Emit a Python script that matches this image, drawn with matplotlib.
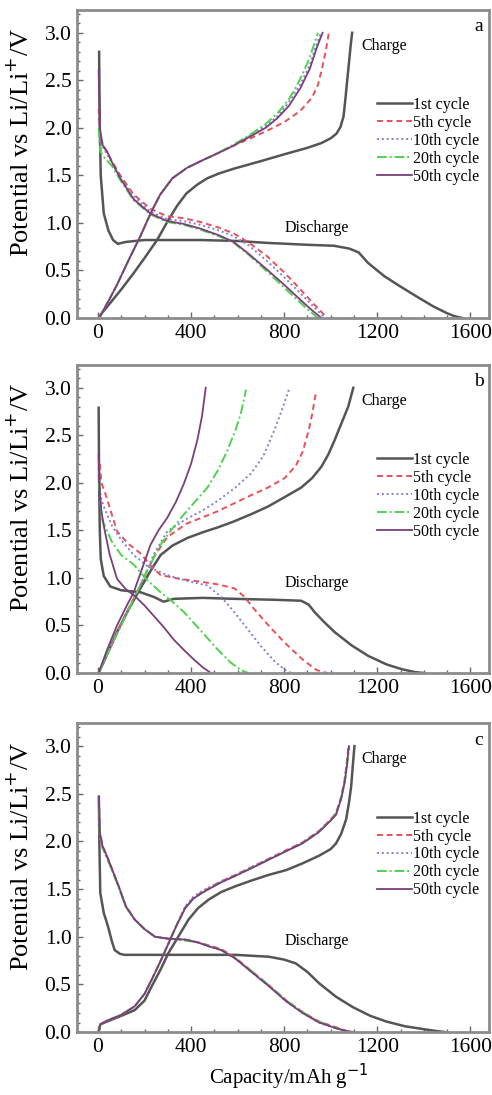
import matplotlib
matplotlib.use("Agg")
import matplotlib.pyplot as plt
from matplotlib.ticker import MultipleLocator

plt.rcParams['font.family'] = ['Liberation Serif', 'DejaVu Serif']

cycles = ['1st cycle', '5th cycle', '10th cycle', '20th cycle', '50th cycle']
panel_letters = ['a', 'b', 'c']

# ---- panel a : (capacity mAh/g, potential V) ----
a_dis_1st = [(5, 2.80), (8, 2.0), (12, 1.5), (25, 1.1), (45, 0.92), (65, 0.82), (85, 0.78), (120, 0.80),
             (200, 0.82), (440, 0.82), (600, 0.81), (726, 0.79), (900, 0.77), (1013, 0.76), (1080, 0.73),
             (1120, 0.69), (1160, 0.58), (1230, 0.44), (1300, 0.33), (1380, 0.21), (1442, 0.12),
             (1500, 0.05), (1530, 0.02), (1565, 0.0)]
a_chg_1st = [(10, 0.03), (60, 0.18), (100, 0.30), (153, 0.47), (200, 0.63), (254, 0.82), (300, 1.02),
             (340, 1.18), (380, 1.31), (425, 1.40), (470, 1.47), (520, 1.52), (583, 1.57), (700, 1.65),
             (798, 1.72), (900, 1.79), (960, 1.84), (1000, 1.89), (1025, 1.94), (1042, 2.01), (1055, 2.12),
             (1063, 2.3), (1070, 2.48), (1077, 2.65), (1085, 2.85), (1092, 3.0)]
a_dis_5th = [(3, 2.2), (10, 1.9), (30, 1.78), (60, 1.65), (96, 1.50), (153, 1.30), (225, 1.15), (297, 1.07),
             (368, 1.05), (440, 1.01), (520, 0.95), (583, 0.89), (650, 0.79), (726, 0.65), (800, 0.48),
             (870, 0.30), (930, 0.14), (985, 0.0)]
a_chg_5th = [(10, 0.02), (50, 0.2), (82, 0.35), (130, 0.6), (182, 0.86), (230, 1.12), (268, 1.30),
             (320, 1.47), (383, 1.58), (450, 1.66), (512, 1.73), (580, 1.81), (655, 1.89), (727, 1.97),
             (800, 2.06), (870, 2.18), (920, 2.32), (945, 2.45), (962, 2.62), (978, 2.8), (992, 3.0)]
a_dis_10th = [(3, 2.1), (10, 1.85), (30, 1.76), (60, 1.63), (96, 1.48), (153, 1.28), (225, 1.12), (297, 1.04),
              (368, 1.02), (440, 0.98), (520, 0.92), (583, 0.86), (650, 0.76), (726, 0.60), (800, 0.43),
              (870, 0.26), (930, 0.11), (975, 0.0)]
a_chg_10th = [(10, 0.02), (50, 0.2), (82, 0.35), (130, 0.6), (182, 0.86), (230, 1.12), (268, 1.30),
              (320, 1.47), (383, 1.58), (450, 1.66), (512, 1.73), (580, 1.81), (655, 1.92), (720, 2.02),
              (770, 2.12), (820, 2.27), (870, 2.46), (910, 2.66), (935, 2.85), (958, 3.0)]
a_dis_20th = [(3, 2.0), (10, 1.75), (30, 1.68), (60, 1.6), (96, 1.45), (153, 1.24), (225, 1.09), (297, 1.01),
              (368, 0.98), (440, 0.93), (520, 0.86), (583, 0.79), (650, 0.66), (726, 0.49), (800, 0.32),
              (870, 0.16), (910, 0.07), (945, 0.0)]
a_chg_20th = [(10, 0.02), (50, 0.2), (82, 0.35), (130, 0.6), (182, 0.86), (230, 1.12), (268, 1.30),
              (320, 1.47), (383, 1.58), (450, 1.66), (512, 1.73), (580, 1.82), (655, 1.93), (720, 2.04),
              (770, 2.15), (820, 2.30), (860, 2.47), (900, 2.68), (925, 2.85), (945, 3.0)]
a_dis_50th = [(3, 2.6), (8, 2.0), (20, 1.82), (40, 1.75), (60, 1.64), (96, 1.47), (153, 1.25), (225, 1.10),
              (297, 1.02), (368, 0.99), (440, 0.94), (520, 0.87), (583, 0.80), (650, 0.67), (726, 0.51),
              (800, 0.35), (870, 0.19), (920, 0.08), (960, 0.0)]
a_chg_50th = [(10, 0.02), (50, 0.2), (82, 0.35), (130, 0.6), (182, 0.86), (230, 1.12), (268, 1.30),
              (320, 1.47), (383, 1.58), (450, 1.66), (512, 1.73), (580, 1.81), (655, 1.91), (720, 2.0),
              (770, 2.10), (820, 2.23), (870, 2.42), (910, 2.62), (941, 2.85), (965, 3.0)]

# ---- panel b ----
b_dis_1st = [(3, 2.79), (5, 2.0), (8, 1.5), (12, 1.2), (25, 1.02), (53, 0.91), (100, 0.87), (182, 0.85),
             (240, 0.80), (282, 0.75), (326, 0.78), (450, 0.79), (585, 0.78), (760, 0.77), (873, 0.76),
             (905, 0.72), (931, 0.64), (970, 0.54), (1017, 0.43), (1090, 0.29), (1161, 0.18), (1240, 0.09),
             (1305, 0.04), (1360, 0.01), (1400, 0.0)]
b_chg_1st = [(3, 0.0), (40, 0.2), (82, 0.43), (130, 0.66), (182, 0.89), (230, 1.09), (269, 1.24), (320, 1.34),
             (384, 1.42), (450, 1.48), (513, 1.53), (580, 1.59), (658, 1.67), (730, 1.75), (802, 1.85),
             (873, 1.95), (920, 2.05), (960, 2.17), (990, 2.30), (1017, 2.45), (1045, 2.62), (1075, 2.80),
             (1097, 3.0)]
b_dis_5th = [(8, 2.2), (15, 2.0), (30, 1.9), (82, 1.49), (130, 1.36), (182, 1.26), (230, 1.12), (269, 1.03),
             (350, 0.99), (442, 0.96), (520, 0.93), (586, 0.89), (630, 0.80), (672, 0.67), (740, 0.48),
             (802, 0.32), (880, 0.14), (940, 0.03), (985, 0.0)]
b_chg_5th = [(3, 0.0), (60, 0.3), (120, 0.62), (182, 0.92), (240, 1.22), (298, 1.43), (380, 1.57), (442, 1.63),
             (513, 1.70), (590, 1.79), (658, 1.87), (730, 1.95), (802, 2.05), (850, 2.18), (880, 2.33),
             (905, 2.55), (920, 2.72), (938, 2.97)]
b_dis_10th = [(5, 2.1), (12, 1.85), (25, 1.75), (60, 1.55), (100, 1.40), (154, 1.24), (220, 1.11), (298, 1.03),
              (380, 0.97), (470, 0.92), (530, 0.80), (586, 0.64), (640, 0.47), (701, 0.28), (760, 0.12),
              (805, 0.03), (830, 0.0)]
b_chg_10th = [(3, 0.0), (60, 0.3), (120, 0.62), (182, 0.92), (240, 1.25), (298, 1.49), (380, 1.62), (450, 1.71),
              (514, 1.81), (590, 1.95), (658, 2.1), (710, 2.28), (759, 2.56), (795, 2.8), (823, 3.0)]
b_dis_20th = [(5, 2.0), (12, 1.75), (20, 1.6), (60, 1.38), (100, 1.24), (154, 1.14), (210, 0.98), (269, 0.85),
              (320, 0.75), (370, 0.64), (440, 0.45), (513, 0.25), (570, 0.11), (614, 0.03), (645, 0.0)]
b_chg_20th = [(3, 0.0), (60, 0.3), (100, 0.5), (154, 0.78), (210, 1.07), (269, 1.35), (320, 1.52), (370, 1.67),
              (420, 1.81), (470, 1.95), (515, 2.13), (556, 2.34), (590, 2.55), (614, 2.73), (636, 2.98)]
b_dis_50th = [(3, 2.3), (8, 1.9), (15, 1.7), (24, 1.56), (50, 1.25), (82, 0.99), (120, 0.88), (154, 0.82),
              (200, 0.71), (240, 0.60), (280, 0.49), (326, 0.35), (370, 0.24), (413, 0.14), (450, 0.06),
              (485, 0.0)]
b_chg_50th = [(3, 0.0), (40, 0.25), (82, 0.5), (120, 0.69), (154, 0.85), (190, 1.1), (226, 1.35), (260, 1.50),
              (297, 1.63), (335, 1.8), (369, 1.99), (400, 2.2), (427, 2.45), (447, 2.7), (463, 3.0)]

# ---- panel c ----
c_dis_1st = [(4, 2.47), (6, 2.0), (10, 1.46), (25, 1.25), (43, 1.11), (60, 0.95), (72, 0.86), (95, 0.82),
             (115, 0.81), (303, 0.81), (591, 0.81), (735, 0.79), (800, 0.76), (850, 0.72), (900, 0.63),
             (951, 0.51), (1023, 0.37), (1096, 0.26), (1170, 0.17), (1239, 0.11), (1320, 0.06), (1400, 0.03),
             (1456, 0.01), (1490, 0.0)]
c_chg_1st = [(3, 0.0), (10, 0.08), (29, 0.10), (100, 0.17), (158, 0.23), (200, 0.33), (231, 0.48), (270, 0.66),
             (303, 0.83), (345, 1.0), (389, 1.18), (430, 1.30), (476, 1.39), (530, 1.47), (591, 1.53),
             (660, 1.59), (735, 1.65), (810, 1.70), (879, 1.77), (950, 1.85), (1000, 1.92), (1023, 1.98),
             (1045, 2.08), (1066, 2.23), (1078, 2.4), (1088, 2.58), (1095, 2.8), (1102, 3.0)]
c_dis_5th = [(4, 2.45), (8, 2.1), (20, 1.95), (43, 1.82), (86, 1.55), (120, 1.32), (158, 1.18), (200, 1.08),
             (245, 1.0), (300, 0.98), (375, 0.97), (430, 0.94), (476, 0.91), (530, 0.87), (591, 0.78),
             (650, 0.66), (735, 0.49), (810, 0.33), (879, 0.21), (950, 0.11), (1023, 0.05), (1070, 0.01),
             (1100, 0.0)]
c_chg_5th = [(3, 0.0), (10, 0.08), (40, 0.12), (100, 0.18), (158, 0.27), (200, 0.40), (231, 0.55), (270, 0.75),
             (303, 0.93), (340, 1.13), (375, 1.31), (410, 1.41), (447, 1.47), (520, 1.57), (591, 1.65),
             (660, 1.73), (735, 1.82), (810, 1.91), (879, 1.99), (950, 2.11), (1000, 2.23), (1023, 2.30),
             (1045, 2.47), (1058, 2.62), (1068, 2.8), (1076, 3.0)]
c_dis_10th = [(4, 2.4), (8, 2.08), (20, 1.93), (43, 1.81), (86, 1.54), (120, 1.31), (158, 1.18), (200, 1.08),
              (245, 1.0), (300, 0.98), (375, 0.97), (430, 0.94), (476, 0.90), (530, 0.86), (591, 0.77),
              (650, 0.65), (735, 0.48), (810, 0.32), (879, 0.20), (950, 0.10), (1023, 0.04), (1065, 0.01),
              (1095, 0.0)]
c_chg_10th = [(3, 0.0), (10, 0.08), (40, 0.12), (100, 0.18), (158, 0.27), (200, 0.40), (231, 0.55), (270, 0.75),
              (303, 0.93), (340, 1.14), (375, 1.32), (410, 1.42), (447, 1.48), (520, 1.57), (591, 1.65),
              (660, 1.73), (735, 1.82), (810, 1.90), (879, 1.99), (950, 2.11), (1000, 2.23), (1023, 2.30),
              (1045, 2.46), (1058, 2.62), (1068, 2.8), (1078, 3.0)]
c_dis_20th = [(4, 2.35), (8, 2.05), (20, 1.93), (43, 1.80), (86, 1.54), (120, 1.31), (158, 1.18), (200, 1.08),
              (245, 1.0), (300, 0.98), (375, 0.96), (430, 0.94), (476, 0.90), (530, 0.86), (591, 0.77),
              (650, 0.66), (735, 0.49), (810, 0.33), (879, 0.21), (950, 0.11), (1023, 0.04), (1065, 0.01),
              (1090, 0.0)]
c_chg_20th = [(3, 0.0), (10, 0.08), (40, 0.12), (100, 0.18), (158, 0.27), (200, 0.40), (231, 0.55), (270, 0.75),
              (303, 0.93), (340, 1.13), (375, 1.30), (410, 1.40), (447, 1.46), (520, 1.56), (591, 1.64),
              (660, 1.72), (735, 1.81), (810, 1.90), (879, 1.98), (950, 2.10), (1000, 2.22), (1023, 2.29),
              (1045, 2.45), (1060, 2.62), (1070, 2.8), (1080, 3.0)]
c_dis_50th = [(4, 2.45), (8, 2.1), (20, 1.95), (43, 1.82), (86, 1.55), (120, 1.32), (158, 1.18), (200, 1.08),
              (245, 1.0), (300, 0.98), (375, 0.97), (430, 0.94), (476, 0.90), (530, 0.86), (591, 0.77),
              (650, 0.65), (735, 0.48), (810, 0.32), (879, 0.20), (950, 0.10), (1023, 0.04), (1070, 0.01),
              (1100, 0.0)]
c_chg_50th = [(3, 0.0), (10, 0.08), (40, 0.12), (100, 0.18), (158, 0.27), (200, 0.40), (231, 0.55), (270, 0.75),
              (303, 0.93), (340, 1.13), (375, 1.30), (410, 1.40), (447, 1.46), (520, 1.56), (591, 1.64),
              (660, 1.72), (735, 1.81), (810, 1.90), (879, 1.98), (950, 2.10), (1000, 2.22), (1023, 2.28),
              (1045, 2.45), (1060, 2.62), (1070, 2.8), (1078, 3.0)]

panels = [
    [(a_dis_1st, a_chg_1st), (a_dis_5th, a_chg_5th), (a_dis_10th, a_chg_10th), (a_dis_20th, a_chg_20th), (a_dis_50th, a_chg_50th)],
    [(b_dis_1st, b_chg_1st), (b_dis_5th, b_chg_5th), (b_dis_10th, b_chg_10th), (b_dis_20th, b_chg_20th), (b_dis_50th, b_chg_50th)],
    [(c_dis_1st, c_chg_1st), (c_dis_5th, c_chg_5th), (c_dis_10th, c_chg_10th), (c_dis_20th, c_chg_20th), (c_dis_50th, c_chg_50th)],
]

styles = [
    dict(color='#555555', ls='-', lw=1.8),
    dict(color='#e8505a', ls=(0, (3, 2)), lw=1.4),
    dict(color='#7f7fd6', ls=(0, (1, 1.5)), lw=1.4),
    dict(color='#4fd24f', ls=(0, (5, 1.5, 1, 1.5)), lw=1.4),
    dict(color='#7a3f7a', ls='-', lw=1.3),
]

fig = plt.figure(figsize=(4.92, 10.95), dpi=100)
boxes = [(0.1565, 0.7096, 0.8374, 0.2813),
         (0.1565, 0.3854, 0.8374, 0.2813),
         (0.1565, 0.0575, 0.8374, 0.2820)]

for k in range(3):
    ax = fig.add_axes(boxes[k])
    for i in range(5):
        dis, chg = panels[k][i]
        ax.plot([p[0] for p in dis], [p[1] for p in dis], **styles[i], label=cycles[i])
        ax.plot([p[0] for p in chg], [p[1] for p in chg], **styles[i])
    ax.set_xlim(-90, 1680)
    ax.set_ylim(0, 3.24)
    ax.xaxis.set_major_locator(MultipleLocator(400))
    ax.xaxis.set_minor_locator(MultipleLocator(100))
    ax.yaxis.set_major_locator(MultipleLocator(0.5))
    ax.yaxis.set_minor_locator(MultipleLocator(0.1))
    ax.tick_params(which='both', direction='in', colors='#666666', labelcolor='black',
                   labelsize=15.5, top=False, right=False)
    ax.tick_params(which='major', length=4, width=1, pad=4)
    ax.tick_params(which='minor', length=2.5, width=1)
    ax.yaxis.set_major_formatter(plt.FuncFormatter(lambda v, p: '%.1f' % v))
    for s in ax.spines.values():
        s.set_color('#8c8c8c')
        s.set_linewidth(2)
    ax.set_ylabel('Potential vs Li/Li$^{+}$/V', fontsize=19)
    ax.yaxis.set_label_coords(-0.104, 0.57)
    ax.text(0.975, 0.945, panel_letters[k], transform=ax.transAxes, fontsize=14, ha='center', va='center')
    ax.text(1230, 2.86, 'Charge', fontsize=11.5, ha='center', va='center')
    ax.text(940, 0.95, 'Discharge', fontsize=11.5, ha='center', va='center')
    ax.legend(loc='center left', bbox_to_anchor=(0.728, 0.575), frameon=False, fontsize=11.5,
              handlelength=2.2, handletextpad=0.05, labelspacing=0.12, borderpad=0, borderaxespad=0)
    if k == 2:
        ax.set_xlabel('Capacity/mAh g$^{-1}$', fontsize=15, va='top')
        ax.xaxis.set_label_coords(0.515, -0.098)

fig.savefig('out.png', dpi=100)
